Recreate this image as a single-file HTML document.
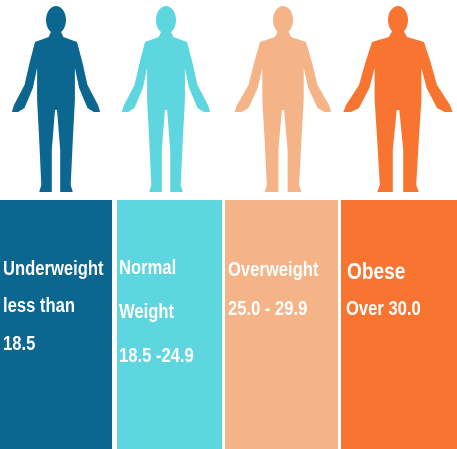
<!DOCTYPE html>
<html><head><meta charset="utf-8"><style>
html,body{margin:0;padding:0;background:#fff;width:457px;height:449px;overflow:hidden;position:relative;font-family:"Liberation Sans",sans-serif}
.p{position:absolute;top:200px;height:249px}
.t{position:absolute;color:#fff;font-weight:bold;font-size:20px;white-space:nowrap;line-height:1;transform:scaleX(0.83);transform-origin:0 0}
svg{position:absolute;left:0;top:0}
</style></head><body>
<svg width="457" height="200" id="figs"></svg>
<div class="p" style="left:0;width:112px;background:#0b6690"></div>
<div class="p" style="left:117px;width:105px;background:#5dd6e0"></div>
<div class="p" style="left:225px;width:113px;background:#f4b488"></div>
<div class="p" style="left:341px;width:116px;background:#f77530"></div>
<div class="t" style="left:3px;top:259px">Underweight</div>
<div class="t" style="left:3px;top:296px">less than</div>
<div class="t" style="left:3px;top:334px">18.5</div>
<div class="t" style="left:119px;top:258px">Normal</div>
<div class="t" style="left:119px;top:302px">Weight</div>
<div class="t" style="left:119px;top:346px">18.5 -24.9</div>
<div class="t" style="left:228px;top:260px">Overweight</div>
<div class="t" style="left:228px;top:299px">25.0 - 29.9</div>
<div class="t" style="left:347px;top:260px;font-size:23px">Obese</div>
<div class="t" style="left:346px;top:299px">Over 30.0</div>
<script>
var svg=document.getElementById('figs');
var NS='http://www.w3.org/2000/svg';
function fig(cx,w,col,name){
  var g=document.createElementNS(NS,'g');
  
  
  g.setAttribute('fill',col);
  var s=function(d){return cx+d*w;};
  var pts=[
   [-4,30],[-7,37],[-20,42],[-25,62],[-30,85],[-40,105],[-42,112],[-36,112],[-30,108],
   [-22,88],[-18,68],[-18,100],[-16,140],[-14,185],[-16,192],[-4,192],[-4,150],[-1,110],[1,110],
   [4,150],[4,192],[16,192],[14,185],[16,140],[18,100],[18,68],[22,88],[30,108],[36,112],[42,112],
   [40,105],[30,85],[25,62],[20,42],[7,37],[4,30]];
  var d='M'+pts.map(function(p){return s(p[0]).toFixed(1)+','+p[1];}).join(' L')+' Z';
  var path=document.createElementNS(NS,'path');
  path.setAttribute('d',d);
  g.appendChild(path);
  var h=document.createElementNS(NS,'ellipse');
  h.setAttribute('cx',cx);h.setAttribute('cy',20);h.setAttribute('rx',10);h.setAttribute('ry',14);
  g.appendChild(h);
  svg.appendChild(g);
}
fig(56,1.05,'#0b6690','underweight-figure');
fig(166,1.05,'#5dd6e0','normal-figure');
fig(283,1.15,'#f4b488','overweight-figure');
fig(398,1.3,'#f77530','obese-figure');
</script>
</body></html>
